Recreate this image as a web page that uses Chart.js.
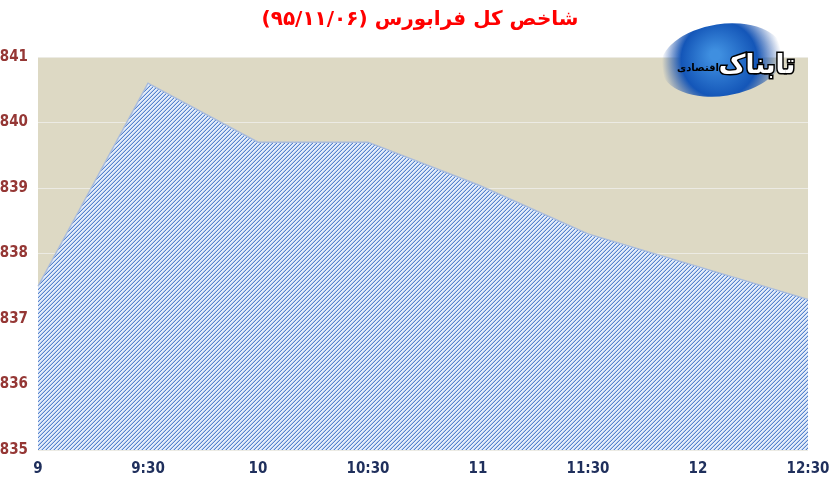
<!DOCTYPE html>
<html>
<head>
<meta charset="utf-8">
<script src="https://cdn.jsdelivr.net/npm/chart.js@4"></script>
<style>
  body { margin: 0; background: #fff; }
  canvas { display: block; }
</style>
</head>
<body>
<canvas id="myChart" width="833" height="482"></canvas>
<script>
const ctx = document.getElementById('myChart')
const saat = ['9', '9:30', '10', '10:30', '11', '11:30', '12', '12:30']
const shakhes = [837.5, 840.6, 839.7, 839.7, 839.05, 838.3, 837.8, 837.3]
const titr = 'شاخص کل فرابورس (۹۵/۱۱/۰۶)'

// hatch pattern like the excel fill, pixel by pixel
function hashur() {
    const c = document.createElement('canvas')
    c.width = 4
    c.height = 4
    const g = c.getContext('2d')
    for (let x = 0; x < 4; x++) {
        for (let y = 0; y < 4; y++) {
            const k = (x + y) % 4
            g.fillStyle = k == 3 ? '#5683cc' : (k == 2 ? '#b6cbee' : '#e4edfa')
            g.fillRect(x, y, 1, 1)
        }
    }
    return g.createPattern(c, 'repeat')
}

const zamine = {
    id: 'zamine',
    beforeDraw(chart) {
        const a = chart.chartArea
        const g = chart.ctx
        g.save()
        g.fillStyle = '#ddd9c4'
        g.fillRect(a.left, a.top, a.right - a.left, a.bottom - a.top)
        g.restore()
    },
    afterDraw(chart) {
        const g = chart.ctx
        g.save()
        // title
        g.fillStyle = '#ff0000'
        g.font = 'bold 20px "DejaVu Sans"'
        g.textAlign = 'center'
        g.textBaseline = 'middle'
        g.direction = 'rtl'
        g.fillText(titr, 420, 20)
        // logo
        const grd = g.createRadialGradient(715, 55, 5, 722, 62, 60)
        grd.addColorStop(0, '#3f8fe0')
        grd.addColorStop(0.6, '#1456b8')
        grd.addColorStop(1, 'rgba(20,70,160,0)')
        g.fillStyle = grd
        g.beginPath()
        g.ellipse(722, 60, 62, 36, -0.15, 0, Math.PI * 2)
        g.fill()
        g.fillStyle = '#ffffff'
        g.strokeStyle = '#000000'
        g.lineWidth = 3
        g.font = 'bold 26px "DejaVu Sans"'
        g.strokeText('تابناک', 757, 66)
        g.fillText('تابناک', 757, 66)
        g.fillStyle = '#000000'
        g.font = 'bold 10px "DejaVu Sans"'
        g.fillText('اقتصادی', 698, 68)
        g.restore()
    }
}

const myChart = new Chart(ctx, {
    type: 'line',
    data: {
        labels: saat,
        datasets: [{
            data: shakhes,
            fill: 'origin',
            backgroundColor: hashur(),
            borderColor: '#a9bcdd',
            borderWidth: 1.5,
            pointRadius: 0,
            tension: 0
        }]
    },
    options: {
        responsive: false,
        animation: false,
        layout: { padding: { top: 57, right: 25, left: 0, bottom: 0 } },
        plugins: {
            legend: { display: false },
            title: { display: false },
            tooltip: { enabled: false }
        },
        scales: {
            x: {
                offset: false,
                grid: { display: false },
                border: { display: false },
                ticks: {
                    color: '#1f2f5c',
                    font: { family: '"Liberation Sans Narrow", "DejaVu Sans Condensed"', weight: 'bold', size: 15 },
                    maxRotation: 0,
                    padding: 2
                },
                afterFit(s) { s.height = 32 }
            },
            y: {
                min: 835,
                max: 841,
                grid: { color: '#ecebe4', lineWidth: 1, drawTicks: false },
                border: { display: false },
                ticks: {
                    stepSize: 1,
                    color: '#953735',
                    font: { family: '"Liberation Sans Narrow", "DejaVu Sans Condensed"', weight: 'bold', size: 15 },
                    padding: 10
                },
                afterFit(s) { s.width = 38 }
            }
        }
    },
    plugins: [zamine]
})
</script>
</body>
</html>
